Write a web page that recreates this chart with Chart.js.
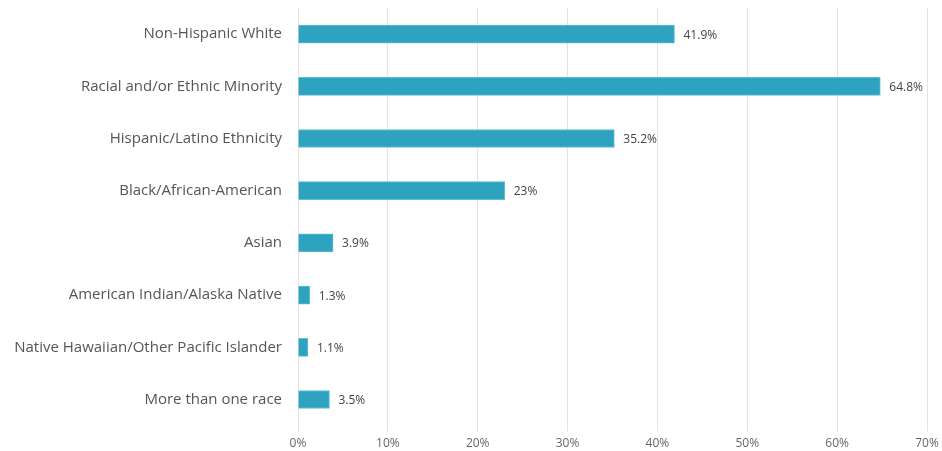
<!DOCTYPE html>
<html>
<head>
<meta charset="utf-8">
<script src="https://cdn.jsdelivr.net/npm/chart.js@4.4.1/dist/chart.umd.min.js"></script>
<style>
  html, body { margin: 0; padding: 0; background: #fff; }
  #wrap { width: 942px; height: 451px; }
</style>
</head>
<body>
<div id="wrap"><canvas id="raceChart" width="942" height="451"></canvas></div>
<script>
// Race / ethnicity shares (%)
const categories = [
    'Non-Hispanic White',
    'Racial and/or Ethnic Minority',
    'Hispanic/Latino Ethnicity',
    'Black/African-American',
    'Asian',
    'American Indian/Alaska Native',
    'Native Hawaiian/Other Pacific Islander',
    'More than one race'
];
const shares = [41.9, 64.8, 35.2, 23, 3.9, 1.3, 1.1, 3.5];
const xTicks = [0, 10, 20, 30, 40, 50, 60, 70];

const FONT = '"Open Sans", "DejaVu Sans", sans-serif';

// writes the value just past the end of each bar
const valueLabels = {
    id: 'valueLabels',
    afterDatasetsDraw(chart) {
        const ctx = chart.ctx;
        const meta = chart.getDatasetMeta(0);
        ctx.save();
        ctx.font = '12px ' + FONT;
        ctx.fillStyle = '#444';
        ctx.textBaseline = 'middle';
        meta.data.forEach((bar, i) => {
            ctx.fillText(shares[i] + '%', bar.x + 9, bar.y + 1);
        });
        ctx.restore();
    }
};

new Chart(document.getElementById('raceChart'), {
    type: 'bar',
    data: {
        labels: categories,
        datasets: [{
            data: shares,
            backgroundColor: '#2ea3bf',
            borderColor: '#5fbdd4',
            borderWidth: 1,
            barThickness: 18
        }]
    },
    options: {
        indexAxis: 'y',
        responsive: false,
        animation: false,
        layout: { padding: { top: 8, right: 15, bottom: -5, left: 0 } },
        plugins: {
            legend: { display: false },
            tooltip: { enabled: false }
        },
        scales: {
            x: {
                min: 0,
                max: 70,
                afterBuildTicks(scale) {
                    scale.ticks = xTicks.map(v => ({ value: v }));
                },
                // let the layout padding alone decide the plot edges
                afterFit(scale) {
                    scale.paddingLeft = 0;
                    scale.paddingRight = 0;
                },
                grid: { color: '#e3e3e3', drawTicks: true, tickLength: 6 },
                border: { display: false },
                ticks: {
                    callback: v => v + '%',
                    color: '#666',
                    font: { family: FONT, size: 12 },
                    padding: 5,
                    maxRotation: 0
                }
            },
            y: {
                grid: { display: false },
                border: { display: false },
                afterFit(scale) {
                    scale.width = 298;
                    scale.paddingTop = 0;
                    scale.paddingBottom = 0;
                },
                ticks: {
                    color: '#555',
                    font: { family: FONT, size: 15 },
                    padding: 8
                }
            }
        }
    },
    plugins: [valueLabels]
});
</script>
</body>
</html>
